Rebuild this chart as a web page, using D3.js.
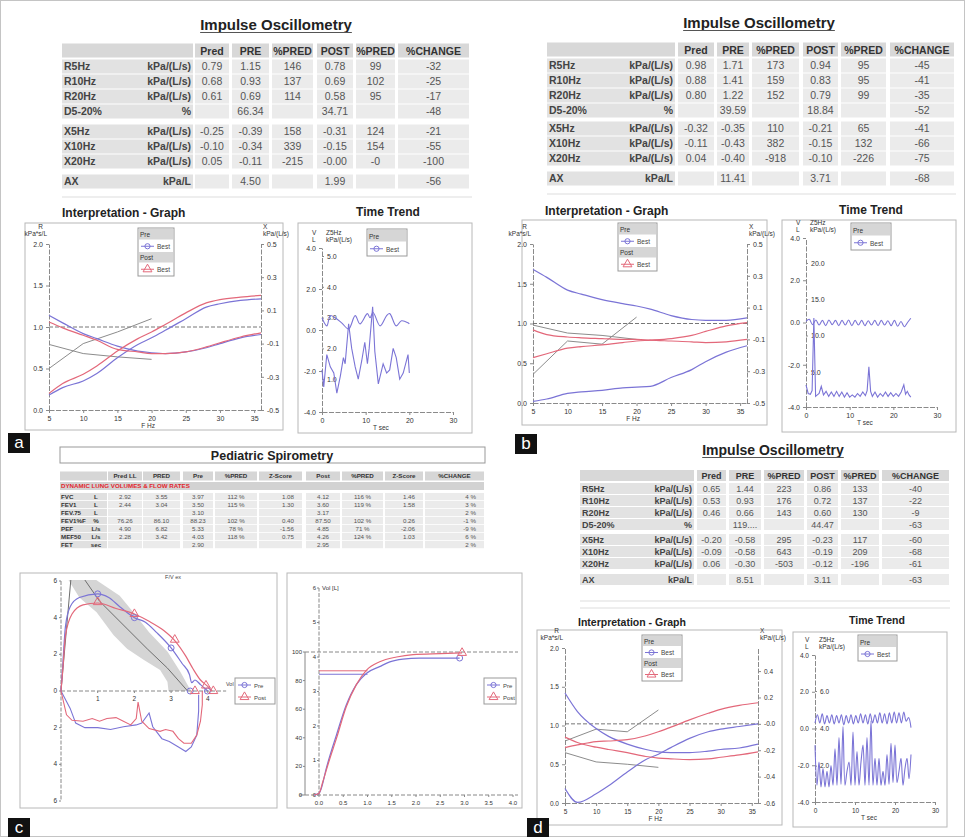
<!DOCTYPE html>
<html>
<head>
<meta charset="utf-8">
<script src="https://cdn.jsdelivr.net/npm/d3@7"></script>
<style>
body { margin: 0; background: #fff; }
</style>
</head>
<body>
<svg id="fig" width="965" height="837"></svg>
<script>
// ---------------- data ----------------
var iosCols = ["Pred", "PRE", "%PRED", "POST", "%PRED", "%CHANGE"];
var iosRows = ["R5Hz", "R10Hz", "R20Hz", "D5-20%", "X5Hz", "X10Hz", "X20Hz", "AX"];
var iosUnits = ["kPa/(L/s)", "kPa/(L/s)", "kPa/(L/s)", "%", "kPa/(L/s)", "kPa/(L/s)", "kPa/(L/s)", "kPa/L"];

var iosA = [
    ["0.79", "1.15", "146", "0.78", "99", "-32"],
    ["0.68", "0.93", "137", "0.69", "102", "-25"],
    ["0.61", "0.69", "114", "0.58", "95", "-17"],
    ["", "66.34", "", "34.71", "", "-48"],
    ["-0.25", "-0.39", "158", "-0.31", "124", "-21"],
    ["-0.10", "-0.34", "339", "-0.15", "154", "-55"],
    ["0.05", "-0.11", "-215", "-0.00", "-0", "-100"],
    ["", "4.50", "", "1.99", "", "-56"]
];
var iosB = [
    ["0.98", "1.71", "173", "0.94", "95", "-45"],
    ["0.88", "1.41", "159", "0.83", "95", "-41"],
    ["0.80", "1.22", "152", "0.79", "99", "-35"],
    ["", "39.59", "", "18.84", "", "-52"],
    ["-0.32", "-0.35", "110", "-0.21", "65", "-41"],
    ["-0.11", "-0.43", "382", "-0.15", "132", "-66"],
    ["0.04", "-0.40", "-918", "-0.10", "-226", "-75"],
    ["", "11.41", "", "3.71", "", "-68"]
];
var iosD = [
    ["0.65", "1.44", "223", "0.86", "133", "-40"],
    ["0.53", "0.93", "176", "0.72", "137", "-22"],
    ["0.46", "0.66", "143", "0.60", "130", "-9"],
    ["", "119....", "", "44.47", "", "-63"],
    ["-0.20", "-0.58", "295", "-0.23", "117", "-60"],
    ["-0.09", "-0.58", "643", "-0.19", "209", "-68"],
    ["0.06", "-0.30", "-503", "-0.12", "-196", "-61"],
    ["", "8.51", "", "3.11", "", "-63"]
];

var spiroCols = ["Pred LL", "PRED", "Pre", "%PRED", "Z-Score", "Post", "%PRED", "Z-Score", "%CHANGE"];
var spiroRows = ["FVC", "FEV1", "FEV.75", "FEV1%F", "PEF", "MEF50", "FET"];
var spiroUnits = ["L", "L", "L", "%", "L/s", "L/s", "sec"];
var spiroValues = [
    ["2.92", "3.55", "3.97", "112 %", "1.08", "4.12", "116 %", "1.46", "4 %"],
    ["2.44", "3.04", "3.50", "115 %", "1.30", "3.60", "119 %", "1.58", "3 %"],
    ["", "", "3.10", "", "", "3.17", "", "", "2 %"],
    ["76.26", "86.10", "88.23", "102 %", "0.40", "87.50", "102 %", "0.26", "-1 %"],
    ["4.90", "6.82", "5.33", "78 %", "-1.56", "4.85", "71 %", "-2.06", "-9 %"],
    ["2.28", "3.42", "4.03", "118 %", "0.75", "4.26", "124 %", "1.03", "6 %"],
    ["", "", "2.90", "", "", "2.95", "", "", "2 %"]
];

// interpretation graphs (R on left axis, X on right axis)
var hz = [5, 7, 10, 12, 15, 18, 20, 22, 25, 28, 30, 33, 36];
var hzTicks = [5, 10, 15, 20, 25, 30, 35];
var rTicks = [0, 0.5, 1.0, 1.5, 2.0];
var xTicksAB = [-0.5, -0.3, -0.1, 0.1, 0.3, 0.5];
var xTickLabelsAB = ["-0.5", "-0.3", "-0.1", "0.1", "0.3", "0.5"];
var xTicksD = [-0.6, -0.4, -0.2, 0, 0.2, 0.4];
var xTickLabelsD = ["-0.6", "-0.4", "-0.2", "-0.0", "0.2", "0.4"];

var rPreA = [1.14, 1.05, 0.92, 0.86, 0.77, 0.71, 0.69, 0.68, 0.70, 0.75, 0.80, 0.87, 0.91];
var rPostA = [1.06, 0.99, 0.90, 0.84, 0.73, 0.70, 0.68, 0.68, 0.70, 0.76, 0.81, 0.88, 0.93];
var xPreA = [-0.41, -0.365, -0.325, -0.28, -0.185, -0.105, -0.065, -0.02, 0.05, 0.12, 0.14, 0.16, 0.17];
var xPostA = [-0.40, -0.34, -0.285, -0.235, -0.145, -0.07, -0.03, 0.015, 0.085, 0.145, 0.165, 0.18, 0.19];

var rPreB = [1.68, 1.58, 1.42, 1.37, 1.30, 1.25, 1.22, 1.18, 1.10, 1.05, 1.04, 1.04, 1.07];
var rPostB = [0.92, 0.86, 0.83, 0.82, 0.81, 0.80, 0.80, 0.79, 0.78, 0.77, 0.76, 0.77, 0.80];
var xPreB = [-0.49, -0.475, -0.44, -0.43, -0.42, -0.405, -0.40, -0.395, -0.34, -0.29, -0.24, -0.18, -0.14];
var xPostB = [-0.215, -0.19, -0.155, -0.145, -0.135, -0.12, -0.11, -0.105, -0.095, -0.075, -0.05, -0.015, 0.005];

var rPreD = [1.42, 1.18, 0.96, 0.86, 0.76, 0.69, 0.66, 0.65, 0.65, 0.67, 0.69, 0.71, 0.76];
var rPostD = [0.85, 0.78, 0.72, 0.69, 0.65, 0.60, 0.58, 0.57, 0.56, 0.57, 0.59, 0.62, 0.66];
var xPreD = [-0.49, -0.595, -0.53, -0.47, -0.365, -0.27, -0.23, -0.18, -0.11, -0.06, -0.04, -0.02, 0.0];
var xPostD = [-0.18, -0.16, -0.135, -0.13, -0.12, -0.09, -0.06, -0.025, 0.03, 0.08, 0.11, 0.14, 0.16];

var predHz = [5, 10, 15, 20];
var predRA = [0.79, 0.68, 0.64, 0.61];
var predXA = [-0.25, -0.10, -0.03, 0.05];
var predRB = [0.98, 0.88, 0.85, 0.80];
var predXB = [-0.32, -0.11, -0.13, 0.04];
var predRD = [0.65, 0.53, 0.50, 0.46];
var predXD = [-0.13, -0.04, -0.06, 0.105];

// time trend graphs
var tTicks = [0, 10, 20, 30];
var vTicks = [-4, -2, 0, 2, 4];
var vLabels = ["-4.0", "-2.0", "0.0", "2.0", "4.0"];

var ttVolTA = [0, 1.1, 1.9, 3.0, 4.5, 6.1, 7.6, 8.7, 10.4, 11.0, 11.7, 13.3, 14.8, 15.5, 17.0, 18.2, 19.7, 20.0];
var ttVolA = [0.6, 0.2, 0.7, 0.6, 0.35, 0.05, 0.7, 0.3, 0.8, 0.6, 0.85, 0.2, 0.7, 0.8, 0.2, 0.45, 0.35, 0.3];
var ttZTA = [0, 0.4, 1.1, 1.9, 2.7, 3.4, 4.2, 4.9, 5.3, 6.1, 6.8, 7.6, 8.3, 9.1, 9.8, 10.4, 10.8, 11.6, 12.1, 12.9, 14.0, 14.8, 15.5, 16.3, 17.0, 17.8, 18.6, 19.7, 20.0];
var ttZA = [1.3, 0.75, 1.8, 1.4, 1.2, 0.55, 1.1, 1.7, 1.5, 2.8, 2.0, 1.4, 1.0, 1.6, 2.2, 1.5, 2.0, 3.35, 1.9, 0.85, 1.5, 1.2, 1.3, 2.0, 1.7, 1.0, 1.2, 1.8, 1.2];
var zTicksA = [1, 2, 3, 4, 5];
var zLabelsA = ["1.0", "2.0", "3.0", "4.0", "5.0"];

var ttVolTB = [0, 0.75, 1.5, 2.25, 3, 3.75, 4.5, 5.25, 6, 6.75, 7.5, 8.25, 9, 9.75, 10.5, 11.25, 12, 12.75, 13.5, 14.25, 15, 15.75, 16.5, 17.25, 18, 18.75, 19.5, 20.25, 21, 21.75, 22.5, 23.25, 24];
var ttVolB = [0.05, 0.15, -0.1, 0.12, -0.12, 0.1, -0.15, 0.12, -0.1, 0.1, -0.15, 0.1, -0.12, 0.12, -0.15, 0.1, -0.12, 0.1, -0.15, 0.08, -0.12, 0.1, -0.15, 0.1, -0.12, 0.08, -0.15, 0.1, -0.18, 0.05, -0.2, 0.0, 0.2];
var ttZTB = [0, 0.5, 1.0, 1.4, 1.8, 2.2, 2.6, 3.0, 3.5, 4.0, 4.6, 5.2, 5.8, 6.4, 7.0, 7.6, 8.2, 8.8, 9.4, 10.0, 10.6, 11.2, 11.8, 12.4, 13.0, 13.6, 14.0, 14.4, 14.8, 15.2, 15.8, 16.4, 17.0, 17.6, 18.2, 18.8, 19.4, 20.0, 20.6, 21.2, 21.8, 22.4, 22.8, 23.2, 23.6, 24.0];
var ttZB = [3.2, 2.0, 1.9, 2.4, 12.4, 1.6, 1.8, 2.0, 3.0, 1.8, 2.3, 1.6, 2.2, 1.6, 2.3, 1.6, 2.2, 1.5, 2.1, 1.5, 1.8, 1.5, 2.0, 1.6, 2.2, 1.7, 2.4, 5.7, 2.3, 1.6, 2.2, 1.5, 2.0, 1.6, 2.2, 1.6, 2.1, 1.6, 2.0, 1.6, 2.2, 3.2, 1.9, 2.3, 1.8, 1.5];
var zTicksB = [5, 10, 15, 20];
var zLabelsB = ["5.0", "10.0", "15.0", "20.0"];

var ttVolTD = [0, 0.6, 1.2, 1.8, 2.4, 3.0, 3.6, 4.2, 4.8, 5.4, 6.0, 6.6, 7.2, 7.8, 8.4, 9.0, 9.6, 10.2, 10.8, 11.4, 12.0, 12.6, 13.2, 13.8, 14.4, 15.0, 15.6, 16.2, 16.8, 17.4, 18.0, 18.6, 19.2, 19.8, 20.4, 21.0, 21.6, 22.2, 22.8, 23.4, 24.0];
var ttVolD = [0.3, 0.75, 0.3, 0.8, 0.25, 0.7, 0.3, 0.75, 0.25, 0.7, 0.3, 0.75, 0.2, 0.7, 0.3, 0.75, 0.25, 0.7, 0.3, 0.8, 0.3, 0.75, 0.25, 0.8, 0.3, 0.75, 0.3, 0.85, 0.3, 0.8, 0.25, 0.85, 0.3, 0.9, 0.3, 0.85, 0.3, 0.9, 0.4, 0.6, 0.05];
var ttZTD = [0, 0.5, 1, 1.5, 2, 2.5, 3, 3.5, 4, 4.5, 5, 5.5, 6, 6.5, 7, 7.5, 8, 8.5, 9, 9.5, 10, 10.5, 11, 11.5, 12, 12.5, 13, 13.5, 14, 14.5, 15, 15.5, 16, 16.5, 17, 17.5, 18, 18.5, 19, 19.5, 20, 20.5, 21, 21.5, 22, 22.5, 23, 23.5, 24];
var ttZD = [3.1, 0.95, 2.2, 0.86, 1.85, 0.86, 1.7, 0.86, 2.0, 0.95, 2.9, 0.95, 3.5, 1.0, 4.1, 0.95, 1.7, 2.2, 0.95, 3.8, 0.95, 2.75, 0.95, 2.2, 3.1, 0.95, 3.5, 0.95, 4.4, 0.95, 2.4, 0.95, 2.4, 0.95, 1.7, 0.95, 2.6, 1.0, 3.2, 1.1, 3.1, 1.1, 1.7, 2.4, 0.95, 1.85, 2.4, 1.3, 2.6];
var zTicksD = [2, 4, 6];
var zLabelsD = ["2.0", "4.0", "6.0"];

// flow-volume loop (c)
var fvPreVol = [0, 0.05, 0.12, 0.25, 0.5, 1.0, 1.3, 1.6, 2.0, 2.3, 2.6, 3.0, 3.3, 3.5, 3.56, 3.65, 3.8, 4.0];
var fvPreFlow = [0, 1.5, 3.5, 4.6, 5.1, 5.3, 5.1, 4.6, 4.0, 3.75, 3.2, 2.35, 1.5, 0.9, 0.45, 0.6, 0.35, 0];
var fvPostVol = [0, 0.05, 0.12, 0.3, 0.6, 1.0, 1.5, 2.0, 2.4, 2.8, 3.1, 3.4, 3.6, 3.8, 4.0, 4.12];
var fvPostFlow = [0, 1.2, 3.0, 4.2, 4.7, 4.8, 4.5, 4.2, 3.8, 3.3, 2.75, 1.9, 1.2, 0.6, 0.25, 0];
var fvPreInVol = [0, 0.25, 0.4, 0.65, 1.0, 1.35, 1.7, 2.05, 2.2, 2.4, 2.5, 2.75, 2.95, 3.2, 3.4, 3.55, 3.7, 3.75, 3.75];
var fvPreInFlow = [0, -0.95, -1.75, -2.0, -2.0, -2.1, -1.95, -1.85, -1.75, -1.2, -1.95, -2.6, -2.75, -3.05, -3.3, -3.05, -2.4, -1.1, -0.2];
var fvPostInVol = [0, 0.15, 0.3, 0.6, 0.85, 1.05, 1.25, 1.5, 1.7, 1.9, 2.05, 2.1, 2.2, 2.4, 2.7, 2.85, 3.05, 3.2, 3.35, 3.55, 3.7, 3.8, 3.85, 3.85];
var fvPostInFlow = [0, -1.3, -1.6, -1.65, -1.5, -1.65, -1.5, -1.45, -1.65, -1.85, -1.5, -0.6, -1.65, -2.05, -2.2, -2.1, -2.2, -2.6, -2.85, -2.85, -2.4, -1.65, -0.75, 0];
var fvPreMarkVol = [1.0, 2.0, 3.0, 3.52, 3.99];
var fvPreMarkFlow = [5.3, 4.0, 2.35, 0, 0];
var fvPostMarkVol = [1.0, 2.0, 3.1, 3.65, 3.95, 4.15];
var fvPostMarkFlow = [4.85, 4.2, 2.8, 0, 0.3, 0];
var bandUpVol = [0.85, 1.6, 1.97, 2.4, 2.9, 3.25, 3.5, 3.55];
var bandUpFlow = [6.2, 5.2, 4.3, 3.2, 2.15, 1.05, 0.15, 0];
var bandLoVol = [2.93, 2.9, 2.7, 2.25, 1.8, 1.43, 0.97, 0.5, 0.16];
var bandLoFlow = [0, 0.5, 1.15, 1.7, 2.3, 3.05, 4.3, 5.1, 6.2];
var fvPredVol = [0, 0.3, 0.6, 1.05, 1.8, 2.35, 2.9, 3.45];
var fvPredFlow = [0, 6.8, 6.2, 4.9, 3.4, 2.3, 1.25, 0];
var fvXTicks = [1, 2, 3, 4];
var fvYTicks = [-6, -4, -2, 0, 2, 4, 6];
var fvYLabels = ["6", "4", "2", "0", "2", "4", "6"];

// volume-time curve (c)
var vtPreT = [-0.1, 0, 0.05, 0.15, 0.36, 0.56, 0.77, 0.98, 1.25, 1.46, 1.73, 2.07, 2.5, 2.9];
var vtPreV = [0, 0.05, 0.2, 0.77, 1.74, 2.6, 3.2, 3.53, 3.72, 3.86, 3.94, 3.97, 3.97, 3.97];
var vtPostT = [-0.1, 0, 0.08, 0.2, 0.36, 0.56, 0.77, 0.98, 1.25, 1.6, 1.94, 2.5, 2.95];
var vtPostV = [0, 0.05, 0.39, 0.95, 1.64, 2.55, 3.2, 3.62, 3.86, 4.0, 4.07, 4.1, 4.12];
var vtFev1 = [3.50, 3.60];
var vtTicks = [0, 0.5, 1.0, 1.5, 2.0, 2.5, 3.0, 3.5, 4.0];
var vtTickLabels = ["0.0", "0.5", "1.0", "1.5", "2.0", "2.5", "3.0", "3.5", "4.0"];
var vtLTicks = [0, 1, 2, 3, 4, 5, 6];
var vtPctTicks = [0, 20, 40, 60, 80, 100];

// ---------------- drawing ----------------
var FONT = "'Liberation Sans', Arial, sans-serif";
var BLUE = "#7b74d6";
var RED = "#e3687a";
var PRED = "#8c8c8c";

var svg = d3.select("#fig").attr("font-family", FONT);
svg.append("rect").attr("width", 965).attr("height", 837).attr("fill", "#fff");
svg.append("rect").attr("x", 0.5).attr("y", 0.5).attr("width", 964).attr("height", 836)
    .attr("fill", "none").attr("stroke", "#c4c4c4");

function box(g, f, col) {
    g.append("rect").attr("x", f[0]).attr("y", f[1])
        .attr("width", f[2] - f[0]).attr("height", f[3] - f[1])
        .attr("fill", "none").attr("stroke", col || "#b8b8b8").attr("stroke-width", 1);
}

function styleAxis(sel, fs) {
    sel.attr("font-family", FONT).attr("font-size", fs);
    sel.select(".domain").attr("stroke", "#8a8a8a").attr("stroke-dasharray", "5,1.5");
    sel.selectAll(".tick line").attr("stroke", "#8a8a8a");
    sel.selectAll(".tick text").attr("fill", "#333");
    return sel;
}

function drawLine(g, xs, ys, sx, sy, color, curve, w) {
    var pts = xs.map(function(v, i) { return [v, ys[i]]; });
    g.append("path")
        .attr("d", d3.line().curve(curve || d3.curveLinear).x(d => sx(d[0])).y(d => sy(d[1]))(pts))
        .attr("fill", "none").attr("stroke", color).attr("stroke-width", w || 1.2);
}

function marker(g, type, cx, cy, color, r) {
    if (type === "circle") {
        g.append("circle").attr("cx", cx).attr("cy", cy).attr("r", r)
            .attr("fill", "none").attr("stroke", color).attr("stroke-width", 1);
    } else {
        g.append("path").attr("d", d3.symbol().type(d3.symbolTriangle).size(r * r * 5)())
            .attr("transform", "translate(" + cx + "," + cy + ")")
            .attr("fill", "none").attr("stroke", color).attr("stroke-width", 1);
    }
}

function legend(x, y, w, rh, rows, fs) {
    var g = svg.append("g");
    g.append("rect").attr("x", x).attr("y", y).attr("width", w).attr("height", rows.length * rh + 2)
        .attr("fill", "#fff").attr("stroke", "#9a9a9a");
    rows.forEach(function(r, i) {
        var ry = y + 1 + i * rh;
        if (r.head) {
            g.append("rect").attr("x", x + 1).attr("y", ry).attr("width", w - 2).attr("height", rh - 1).attr("fill", "#d6d6d6");
            g.append("text").attr("x", x + 2).attr("y", ry + rh * 0.72).attr("font-size", fs).attr("fill", "#333").text(r.head);
        } else {
            g.append("line").attr("x1", x + 3).attr("x2", x + 16).attr("y1", ry + rh / 2).attr("y2", ry + rh / 2)
                .attr("stroke", r.color).attr("stroke-width", 1);
            marker(g, r.mark, x + 9.5, ry + rh / 2, r.color, 2.6);
            g.append("text").attr("x", x + 19).attr("y", ry + rh * 0.72).attr("font-size", fs).attr("fill", "#444").text(r.label);
        }
    });
}

function panelLabel(t, x, y) {
    svg.append("rect").attr("x", x).attr("y", y).attr("width", 22).attr("height", 20).attr("fill", "#111");
    svg.append("text").attr("x", x + 11).attr("y", y + 15).attr("text-anchor", "middle")
        .attr("font-size", 17).attr("fill", "#fff").text(t);
}

function title(t, cx, y, fs) {
    var tx = svg.append("text").attr("x", cx).attr("y", y).attr("text-anchor", "middle")
        .attr("font-size", fs).attr("font-weight", "bold").attr("fill", "#222").text(t);
    var w = tx.node().getComputedTextLength();
    svg.append("line").attr("x1", cx - w / 2).attr("x2", cx + w / 2).attr("y1", y + 2.5).attr("y2", y + 2.5)
        .attr("stroke", "#555").attr("stroke-width", 1);
}

function iosTable(vals, lay) {
    var g = svg.append("g").attr("font-size", lay.fs);
    var cells = [lay.label].concat(lay.cols);
    cells.forEach(function(c) {
        g.append("rect").attr("x", c[0]).attr("y", lay.head - lay.rh / 2).attr("width", c[1] - c[0])
            .attr("height", lay.rh - 1).attr("fill", "#d8d8d8");
    });
    iosCols.forEach(function(t, i) {
        var c = lay.cols[i];
        g.append("text").attr("x", (c[0] + c[1]) / 2).attr("y", lay.head).attr("dy", "0.35em")
            .attr("text-anchor", "middle").attr("font-weight", "bold").attr("fill", "#333").text(t);
    });
    iosRows.forEach(function(r, j) {
        var y = lay.rows[j];
        cells.forEach(function(c, i) {
            g.append("rect").attr("x", c[0]).attr("y", y - lay.rh / 2).attr("width", c[1] - c[0])
                .attr("height", lay.rh - 1).attr("fill", i === 0 ? "#e2e2e2" : "#ebebeb");
        });
        g.append("text").attr("x", lay.label[0] + 2).attr("y", y).attr("dy", "0.32em")
            .attr("font-weight", "bold").attr("fill", "#444").text(r);
        g.append("text").attr("x", lay.label[1] - 2).attr("y", y).attr("dy", "0.32em").attr("text-anchor", "end")
            .attr("font-weight", "bold").attr("fill", "#444").text(iosUnits[j]);
        vals[j].forEach(function(v, i) {
            var c = lay.cols[i];
            g.append("text").attr("x", (c[0] + c[1]) / 2).attr("y", y).attr("dy", "0.32em")
                .attr("text-anchor", "middle").attr("fill", "#555").text(v);
        });
    });
}

function interpGraph(c) {
    var g = svg.append("g");
    box(g, c.frame);
    g.append("text").attr("x", c.title[0]).attr("y", c.title[1]).attr("font-size", c.titleFs)
        .attr("font-weight", "bold").attr("fill", "#222").text("Interpretation - Graph");
    var x = d3.scaleLinear().domain([5, 36]).range(c.xr);
    var yL = d3.scaleLinear().domain([0, 2]).range(c.yr);
    var yR = d3.scaleLinear().domain(c.rDom).range(c.yr);

    styleAxis(g.append("g").attr("transform", "translate(0," + c.yr[0] + ")")
        .call(d3.axisBottom(x).tickValues(hzTicks).tickFormat(d3.format("d")).tickSize(3).tickSizeOuter(0)), c.fs);
    styleAxis(g.append("g").attr("transform", "translate(" + c.xr[0] + ",0)")
        .call(d3.axisLeft(yL).tickValues(rTicks).tickFormat(d3.format(".1f")).tickSize(3).tickSizeOuter(0)), c.fs);
    styleAxis(g.append("g").attr("transform", "translate(" + c.xr[1] + ",0)")
        .call(d3.axisRight(yR).tickValues(c.rTicks).tickFormat((d, i) => c.rLabels[i]).tickSize(3).tickSizeOuter(0)), c.fs);

    // reference line at X = 0
    g.append("line").attr("x1", c.xr[0]).attr("x2", c.xr[1]).attr("y1", yR(0)).attr("y2", yR(0))
        .attr("stroke", "#666").attr("stroke-width", 0.9).attr("stroke-dasharray", "4,2");

    g.append("text").attr("x", c.xr[0] - 6).attr("y", c.yr[1] - 15).attr("text-anchor", "end")
        .attr("font-size", 6.5).attr("fill", "#333").text("R");
    g.append("text").attr("x", c.xr[0] - 2).attr("y", c.yr[1] - 8).attr("text-anchor", "end")
        .attr("font-size", 6.5).attr("fill", "#333").text("kPa*s/L");
    g.append("text").attr("x", c.xr[1] + 2).attr("y", c.yr[1] - 15)
        .attr("font-size", 6.5).attr("fill", "#333").text("X");
    g.append("text").attr("x", c.xr[1] + 2).attr("y", c.yr[1] - 8)
        .attr("font-size", 6.5).attr("fill", "#333").text("kPa/(L/s)");
    g.append("text").attr("x", x(19.5)).attr("y", c.yr[0] + 18).attr("text-anchor", "middle")
        .attr("font-size", 6.5).attr("fill", "#333").text("F  Hz");

    drawLine(g, predHz, c.predR, x, yL, PRED, d3.curveLinear, 1);
    drawLine(g, predHz, c.predX, x, yR, PRED, d3.curveLinear, 1);
    drawLine(g, hz, c.rPre, x, yL, BLUE, d3.curveMonotoneX, 1.2);
    drawLine(g, hz, c.xPre, x, yR, BLUE, d3.curveMonotoneX, 1.2);
    drawLine(g, hz, c.rPost, x, yL, RED, d3.curveMonotoneX, 1.2);
    drawLine(g, hz, c.xPost, x, yR, RED, d3.curveMonotoneX, 1.2);

    legend(c.leg[0], c.leg[1], c.leg[2], c.leg[3], [
        { head: "Pre" }, { label: "Best", color: BLUE, mark: "circle" },
        { head: "Post" }, { label: "Best", color: RED, mark: "tri" }
    ], 6.5);
}

function timeTrend(c) {
    var g = svg.append("g");
    box(g, c.frame);
    g.append("text").attr("x", c.title[0]).attr("y", c.title[1]).attr("text-anchor", "middle")
        .attr("font-size", c.titleFs).attr("font-weight", "bold").attr("fill", "#222").text("Time Trend");
    var t = d3.scaleLinear().domain([0, 30]).range(c.xr);
    var v = d3.scaleLinear().domain([-4, 4]).range(c.vr);
    var z = d3.scaleLinear().domain(c.zDom).range(c.zr);

    styleAxis(g.append("g").attr("transform", "translate(0," + c.vr[0] + ")")
        .call(d3.axisBottom(t).tickValues(tTicks).tickFormat(d3.format("d")).tickSize(3).tickSizeOuter(0)), c.fs);
    styleAxis(g.append("g").attr("transform", "translate(" + c.xr[0] + ",0)")
        .call(d3.axisLeft(v).tickValues(vTicks).tickFormat((d, i) => vLabels[i]).tickSize(3).tickSizeOuter(0)), c.fs);
    var za = g.append("g").attr("transform", "translate(" + c.xr[0] + ",0)")
        .call(d3.axisRight(z).tickValues(c.zTicks).tickFormat((d, i) => c.zLabels[i]).tickSize(2).tickSizeOuter(0));
    styleAxis(za, c.fs);
    za.select(".domain").remove();

    g.append("text").attr("x", c.xr[0] - 10).attr("y", c.vr[1] - 13).attr("font-size", 6.5).attr("fill", "#333").text("V");
    g.append("text").attr("x", c.xr[0] - 10).attr("y", c.vr[1] - 6).attr("font-size", 6.5).attr("fill", "#333").text("L");
    g.append("text").attr("x", c.xr[0] + 4).attr("y", c.vr[1] - 13).attr("font-size", 6.5).attr("fill", "#333").text("Z5Hz");
    g.append("text").attr("x", c.xr[0] + 4).attr("y", c.vr[1] - 6).attr("font-size", 6.5).attr("fill", "#333").text("kPa/(L/s)");
    g.append("text").attr("x", t(13.5)).attr("y", c.vr[0] + 18).attr("text-anchor", "middle")
        .attr("font-size", 6.5).attr("fill", "#333").text("T  sec");

    drawLine(g, c.volT, c.vol, t, v, BLUE, d3.curveCatmullRom, 1.1);
    drawLine(g, c.zT, c.zv, t, z, BLUE, c.zCurve, 1.1);

    legend(c.leg[0], c.leg[1], c.leg[2], c.leg[3], [
        { head: "Pre" }, { label: "Best", color: BLUE, mark: "circle" }
    ], 6.5);
}

// ---------- panel a ----------
title("Impulse Oscillometry", 276, 30, 15);
iosTable(iosA, {
    fs: 10.5, rh: 15, head: 51,
    rows: [67, 82, 97, 112, 132, 147, 162, 182],
    label: [62, 193],
    cols: [[195, 229], [232, 269], [272, 313], [317, 353], [356, 395], [398, 469]]
});
svg.append("line").attr("x1", 62).attr("x2", 472).attr("y1", 197).attr("y2", 197).attr("stroke", "#ddd");
interpGraph({
    frame: [25, 223, 283, 430], title: [62, 217], titleFs: 12, fs: 7,
    xr: [49, 261], yr: [410, 244], rDom: [-0.5, 0.5], rTicks: xTicksAB, rLabels: xTickLabelsAB,
    rPre: rPreA, rPost: rPostA, xPre: xPreA, xPost: xPostA, predR: predRA, predX: predXA,
    leg: [138, 228, 36, 11.5]
});
timeTrend({
    frame: [298, 223, 472, 433], title: [388, 216], titleFs: 12, fs: 7,
    xr: [322, 453], vr: [412, 248], zDom: [0, 5], zr: [410, 256], zTicks: zTicksA, zLabels: zLabelsA,
    volT: ttVolTA, vol: ttVolA, zT: ttZTA, zv: ttZA, zCurve: d3.curveLinear,
    leg: [367, 229, 40, 12.5]
});
panelLabel("a", 8, 433);

// ---------- panel b ----------
title("Impulse Oscillometry", 759, 28, 15);
iosTable(iosB, {
    fs: 10.5, rh: 15, head: 50,
    rows: [66, 81, 96, 111, 129, 144, 159, 179],
    label: [547, 675],
    cols: [[678, 714], [717, 749], [752, 799], [803, 838], [841, 886], [890, 954]]
});
svg.append("line").attr("x1", 547).attr("x2", 956).attr("y1", 194).attr("y2", 194).attr("stroke", "#ddd");
interpGraph({
    frame: [522, 220, 767, 425], title: [545, 215], titleFs: 12, fs: 7,
    xr: [533, 747], yr: [403, 244], rDom: [-0.5, 0.5], rTicks: xTicksAB, rLabels: xTickLabelsAB,
    rPre: rPreB, rPost: rPostB, xPre: xPreB, xPost: xPostB, predR: predRB, predX: predXB,
    leg: [618, 223, 39, 11.5]
});
timeTrend({
    frame: [782, 220, 956, 432], title: [871, 214], titleFs: 12, fs: 7,
    xr: [806, 937], vr: [407, 238], zDom: [0, 20], zr: [408, 263], zTicks: zTicksB, zLabels: zLabelsB,
    volT: ttVolTB, vol: ttVolB, zT: ttZTB, zv: ttZB, zCurve: d3.curveLinear,
    leg: [851, 223, 40, 12.5]
});
panelLabel("b", 515, 434);

// ---------- panel c: spirometry table ----------
var sp = svg.append("g").attr("font-size", 6.2);
sp.append("rect").attr("x", 60).attr("y", 447).attr("width", 425).attr("height", 16)
    .attr("fill", "#fff").attr("stroke", "#999");
sp.append("text").attr("x", 272).attr("y", 459.5).attr("text-anchor", "middle").attr("font-size", 12.5)
    .attr("font-weight", "bold").attr("fill", "#222").text("Pediatric Spirometry");

var spLabel = [60, 107];
var spCells = [[108, 142], [143, 180], [183, 213], [215, 257], [259, 302], [306, 340], [342, 383], [385, 423], [425, 484]];
var spAlign = ["middle", "middle", "middle", "middle", "end", "middle", "middle", "end", "end"];
var spHead = 476, spRowH = 8;
var spRowY = [497, 505, 513, 521, 529, 537, 545];
[spLabel].concat(spCells).forEach(function(c) {
    sp.append("rect").attr("x", c[0]).attr("y", spHead - 4.5).attr("width", c[1] - c[0]).attr("height", 9).attr("fill", "#d6d6d6");
});
spiroCols.forEach(function(t, i) {
    var c = spCells[i];
    sp.append("text").attr("x", (c[0] + c[1]) / 2).attr("y", spHead).attr("dy", "0.35em").attr("text-anchor", "middle")
        .attr("font-weight", "bold").attr("fill", "#333").text(t);
});
sp.append("rect").attr("x", 60).attr("y", 482).attr("width", 424).attr("height", 8).attr("fill", "#d2d2d2");
sp.append("text").attr("x", 61).attr("y", 486).attr("dy", "0.35em").attr("font-weight", "bold")
    .attr("fill", "#e3262d").text("DYNAMIC LUNG VOLUMES & FLOW RATES");
spiroRows.forEach(function(r, j) {
    var y = spRowY[j];
    [spLabel].concat(spCells).forEach(function(c, i) {
        sp.append("rect").attr("x", c[0]).attr("y", y - spRowH / 2).attr("width", c[1] - c[0]).attr("height", spRowH - 0.8)
            .attr("fill", i === 0 ? "#e0e0e0" : "#ebebeb");
    });
    sp.append("text").attr("x", 61).attr("y", y).attr("dy", "0.33em").attr("font-weight", "bold").attr("fill", "#333").text(r);
    sp.append("text").attr("x", 96).attr("y", y).attr("dy", "0.33em").attr("text-anchor", "middle")
        .attr("font-weight", "bold").attr("fill", "#333").text(spiroUnits[j]);
    spiroValues[j].forEach(function(v, i) {
        var c = spCells[i];
        var xx = spAlign[i] === "end" ? c[1] - 8 : (c[0] + c[1]) / 2;
        sp.append("text").attr("x", xx).attr("y", y).attr("dy", "0.33em").attr("text-anchor", spAlign[i])
            .attr("fill", "#555").text(v);
    });
});

// ---------- panel c: flow-volume loop ----------
var fv = svg.append("g");
box(fv, [20, 573, 277, 808]);
var fvX = d3.scaleLinear().domain([0, 5]).range([61, 244.5]);
var fvY = d3.scaleLinear().domain([-6, 6]).range([801, 581]);
fv.append("clipPath").attr("id", "fvclip").append("rect").attr("x", 21).attr("y", 580).attr("width", 250).attr("height", 222);
var fvPlot = fv.append("g").attr("clip-path", "url(#fvclip)");

var bandPts = bandUpVol.map((v, i) => [v, bandUpFlow[i]]).concat(bandLoVol.map((v, i) => [v, bandLoFlow[i]]));
fvPlot.append("path").attr("d", d3.line().x(d => fvX(d[0])).y(d => fvY(d[1]))(bandPts) + "Z")
    .attr("fill", "#d5d5d5").attr("stroke", "none");
drawLine(fvPlot, fvPredVol, fvPredFlow, fvX, fvY, "#6e6e6e", d3.curveLinear, 1);

// axes
fv.append("line").attr("x1", fvX(0)).attr("x2", fvX(0)).attr("y1", fvY(6)).attr("y2", fvY(-6))
    .attr("stroke", "#888").attr("stroke-dasharray", "4,1.5");
fv.append("line").attr("x1", fvX(0)).attr("x2", fvX(4.5)).attr("y1", fvY(0)).attr("y2", fvY(0))
    .attr("stroke", "#888").attr("stroke-dasharray", "4,2");
fvYTicks.forEach(function(d, i) {
    fv.append("line").attr("x1", fvX(0) - 2).attr("x2", fvX(0)).attr("y1", fvY(d)).attr("y2", fvY(d)).attr("stroke", "#888");
    fv.append("text").attr("x", fvX(0) - 4).attr("y", fvY(d)).attr("dy", "0.33em").attr("text-anchor", "end")
        .attr("font-size", 6.5).attr("fill", "#333").text(fvYLabels[i]);
});
fvXTicks.forEach(function(d) {
    fv.append("line").attr("x1", fvX(d)).attr("x2", fvX(d)).attr("y1", fvY(0)).attr("y2", fvY(0) + 2).attr("stroke", "#888");
    fv.append("text").attr("x", fvX(d)).attr("y", fvY(0) + 10).attr("text-anchor", "middle")
        .attr("font-size", 6.5).attr("fill", "#333").text(d);
});
fv.append("text").attr("x", 173).attr("y", 579).attr("text-anchor", "middle").attr("font-size", 5.5).attr("fill", "#444").text("F/V ex");
fv.append("text").attr("x", 226).attr("y", 686).attr("font-size", 5.5).attr("fill", "#444").text("Vol");

drawLine(fv, fvPreInVol, fvPreInFlow, fvX, fvY, BLUE, d3.curveLinear, 1.1);
drawLine(fv, fvPostInVol, fvPostInFlow, fvX, fvY, RED, d3.curveLinear, 1.1);
drawLine(fv, fvPreVol, fvPreFlow, fvX, fvY, BLUE, d3.curveMonotoneX, 1.2);
drawLine(fv, fvPostVol, fvPostFlow, fvX, fvY, RED, d3.curveMonotoneX, 1.2);
fvPreMarkVol.forEach((v, i) => marker(fv, "circle", fvX(v), fvY(fvPreMarkFlow[i]), BLUE, 3));
fvPostMarkVol.forEach((v, i) => marker(fv, "tri", fvX(v), fvY(fvPostMarkFlow[i]), RED, 2.6));
legend(235, 678, 40, 12, [
    { label: "Pre", color: BLUE, mark: "circle" }, { label: "Post", color: RED, mark: "tri" }
], 6);

// ---------- panel c: volume-time ----------
var vt = svg.append("g");
box(vt, [287, 573, 522, 808]);
var vtX = d3.scaleLinear().domain([0, 4]).range([319, 513]);
var vtY = d3.scaleLinear().domain([0, 6]).range([795, 588]);
var vtP = d3.scaleLinear().domain([0, 100]).range([795, 652]);

vt.append("line").attr("x1", 299).attr("x2", 518).attr("y1", vtY(0)).attr("y2", vtY(0))
    .attr("stroke", "#888").attr("stroke-dasharray", "4,2");
vt.append("line").attr("x1", 305).attr("x2", 518).attr("y1", vtP(100)).attr("y2", vtP(100))
    .attr("stroke", "#888").attr("stroke-dasharray", "4,2");
vt.append("line").attr("x1", 305).attr("x2", 305).attr("y1", vtP(0)).attr("y2", vtP(100)).attr("stroke", "#888");
vt.append("line").attr("x1", vtX(0)).attr("x2", vtX(0)).attr("y1", vtY(0)).attr("y2", vtY(6))
    .attr("stroke", "#888").attr("stroke-dasharray", "4,1.5");
vtPctTicks.forEach(function(d) {
    vt.append("line").attr("x1", 303).attr("x2", 305).attr("y1", vtP(d)).attr("y2", vtP(d)).attr("stroke", "#888");
    vt.append("text").attr("x", 302).attr("y", vtP(d)).attr("dy", "0.33em").attr("text-anchor", "end")
        .attr("font-size", 6).attr("fill", "#333").text(d);
});
vtLTicks.forEach(function(d) {
    vt.append("line").attr("x1", vtX(0) - 2).attr("x2", vtX(0)).attr("y1", vtY(d)).attr("y2", vtY(d)).attr("stroke", "#888");
    vt.append("text").attr("x", vtX(0) - 3).attr("y", vtY(d)).attr("dy", "0.33em").attr("text-anchor", "end")
        .attr("font-size", 6).attr("fill", "#333").text(d);
});
vtTicks.forEach(function(d, i) {
    vt.append("line").attr("x1", vtX(d)).attr("x2", vtX(d)).attr("y1", vtY(0)).attr("y2", vtY(0) + 2).attr("stroke", "#888");
    vt.append("text").attr("x", vtX(d)).attr("y", vtY(0) + 10).attr("text-anchor", "middle")
        .attr("font-size", 6).attr("fill", "#333").text(vtTickLabels[i]);
});
vt.append("text").attr("x", vtX(0) + 3).attr("y", vtY(6) + 2).attr("font-size", 6).attr("fill", "#333").text("Vol [L]");

vtFev1.forEach(function(d, i) {
    vt.append("line").attr("x1", vtX(0)).attr("x2", vtX(1.0)).attr("y1", vtY(d)).attr("y2", vtY(d))
        .attr("stroke", i === 0 ? BLUE : RED).attr("stroke-width", 1);
});
drawLine(vt, vtPreT, vtPreV, vtX, vtY, BLUE, d3.curveMonotoneX, 1.2);
drawLine(vt, vtPostT, vtPostV, vtX, vtY, RED, d3.curveMonotoneX, 1.2);
marker(vt, "circle", vtX(vtPreT[vtPreT.length - 1]), vtY(vtPreV[vtPreV.length - 1]), BLUE, 3);
marker(vt, "tri", vtX(vtPostT[vtPostT.length - 1]), vtY(vtPostV[vtPostV.length - 1]), RED, 2.6);
legend(484, 678, 32, 12, [
    { label: "Pre", color: BLUE, mark: "circle" }, { label: "Post", color: RED, mark: "tri" }
], 6);
panelLabel("c", 8, 818);

// ---------- panel d ----------
title("Impulse Oscillometry", 773, 455, 14);
iosTable(iosD, {
    fs: 9, rh: 12, head: 476,
    rows: [489, 501, 513, 525, 540, 552, 564, 580],
    label: [580, 694],
    cols: [[697, 726], [729, 761], [764, 804], [807, 838], [841, 879], [882, 949]]
});
svg.append("line").attr("x1", 580).attr("x2", 950).attr("y1", 601).attr("y2", 601).attr("stroke", "#ddd");
svg.append("line").attr("x1", 580).attr("x2", 950).attr("y1", 608).attr("y2", 608).attr("stroke", "#ddd");
interpGraph({
    frame: [537, 630, 782, 825], title: [578, 626], titleFs: 10.5, fs: 6.5,
    xr: [565, 758], yr: [803, 648], rDom: [-0.6, 0.575], rTicks: xTicksD, rLabels: xTickLabelsD,
    rPre: rPreD, rPost: rPostD, xPre: xPreD, xPost: xPostD, predR: predRD, predX: predXD,
    leg: [642, 635, 40, 11]
});
timeTrend({
    frame: [793, 632, 947, 827], title: [877, 624], titleFs: 10.5, fs: 6.5,
    xr: [815, 935], vr: [802, 655], zDom: [0, 6], zr: [803, 691], zTicks: zTicksD, zLabels: zLabelsD,
    volT: ttVolTD, vol: ttVolD, zT: ttZTD, zv: ttZD, zCurve: d3.curveCatmullRom,
    leg: [858, 635, 39, 12]
});
panelLabel("d", 527, 818);
</script>
</body>
</html>
